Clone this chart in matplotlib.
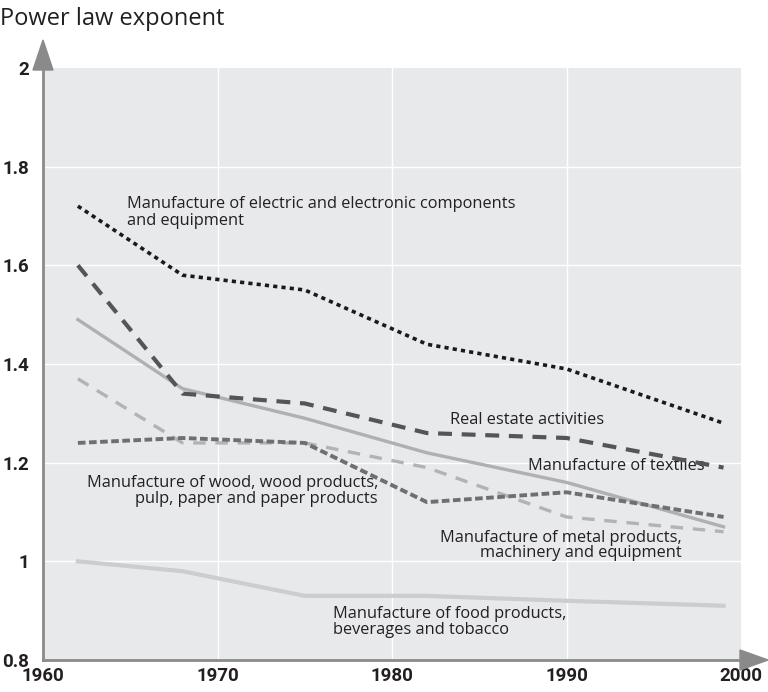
import matplotlib
matplotlib.use("Agg")
import matplotlib.pyplot as plt
from matplotlib.patches import Polygon

years = [1962, 1968, 1975, 1982, 1990, 1999]
electric = [1.72, 1.58, 1.55, 1.44, 1.39, 1.28]
real_estate = [1.60, 1.34, 1.32, 1.26, 1.25, 1.19]
textiles = [1.49, 1.35, 1.29, 1.22, 1.16, 1.07]
metal = [1.37, 1.24, 1.24, 1.19, 1.09, 1.06]
wood = [1.24, 1.25, 1.24, 1.12, 1.14, 1.09]
food = [1.00, 0.98, 0.93, 0.93, 0.92, 0.91]

xticks = [1960, 1970, 1980, 1990, 2000]
xticklabels = ["1960", "1970", "1980", "1990", "2000"]
yticks = [0.8, 1.0, 1.2, 1.4, 1.6, 1.8, 2.0]
yticklabels = ["0.8", "1", "1.2", "1.4", "1.6", "1.8", "2"]

plt.rcParams['lines.scale_dashes'] = False
tick_font = 'Roboto'
text_font = 'Open Sans'

fig = plt.figure(figsize=(7.68, 6.92), dpi=100)
ax = fig.add_axes([43/768, 1-660/692, (741-43)/768, (660-68)/692])
ax.set_facecolor('#e8e9eb')
ax.set_xlim(1960, 2000)
ax.set_ylim(0.8, 2.0)

for x in [1970, 1980, 1990]:
    ax.axvline(x, color='white', lw=1.0, zorder=1)
for y in [1.0, 1.2, 1.4, 1.6, 1.8]:
    ax.axhline(y, color='white', lw=1.0, zorder=1)

ax.plot(years, food, color='#cdcdcd', lw=3.0, zorder=3)
ax.plot(years, textiles, color='#b0b0b0', lw=2.4, zorder=3)
ax.plot(years, metal, color='#b3b3b3', lw=2.4, dashes=(9, 7), zorder=3)
ax.plot(years, wood, color='#6f6f6f', lw=2.8, dashes=(5.5, 2.5), zorder=4)
ax.plot(years, real_estate, color='#555555', lw=3.0, dashes=(10, 7), zorder=4)
ax.plot(years, electric, color='#1a1a1a', lw=2.6, dashes=(3, 3), zorder=5)

tkw = dict(fontsize=11.8, color='#231f20', family=text_font)
ax.text(1964.8, 1.707, "Manufacture of electric and electronic components\nand equipment",
        ha='left', va='center', linespacing=1.12, **tkw)
ax.text(1983.3, 1.286, "Real estate activities", ha='left', va='center', **tkw)
ax.text(1987.8, 1.193, "Manufacture of textiles", ha='left', va='center', **tkw)
ax.text(1979.2, 1.142, "Manufacture of wood, wood products,\npulp, paper and paper products",
        ha='right', va='center', multialignment='right', linespacing=0.98, **tkw)
ax.text(1996.6, 1.032, "Manufacture of metal products,\nmachinery and equipment",
        ha='right', va='center', multialignment='right', linespacing=0.9, **tkw)
ax.text(1976.6, 0.877, "Manufacture of food products,\nbeverages and tobacco",
        ha='left', va='center', linespacing=0.93, **tkw)

for s in ['top', 'right']:
    ax.spines[s].set_visible(False)
for s in ['left', 'bottom']:
    ax.spines[s].set_color('#8a8a8a')
    ax.spines[s].set_linewidth(2.0)
ax.tick_params(length=0)
ax.tick_params(axis='x', pad=5)
ax.tick_params(axis='y', pad=10)
lkw = dict(fontfamily=tick_font, fontweight='bold', fontsize=13.5, color='#231f20')
ax.set_xticks(xticks)
ax.set_xticklabels(xticklabels, **lkw)
ax.set_yticks(yticks)
ax.set_yticklabels(yticklabels, **lkw)

W, H = 768, 692
def P(pts):
    return [(x / W, 1 - y / H) for x, y in pts]
fig.patches.append(Polygon(P([(33, 70), (53, 70), (43, 40)]), closed=True,
                           transform=fig.transFigure, color='#8a8a8a', zorder=10))
fig.patches.append(Polygon(P([(740, 650), (740, 670), (768, 660)]), closed=True,
                           transform=fig.transFigure, color='#8a8a8a', zorder=10))

fig.text(0/W, 1-19/H, "Power law exponent", fontsize=17, family=text_font,
         color='#231f20', ha='left', va='center')

fig.savefig("out.png", dpi=100)
